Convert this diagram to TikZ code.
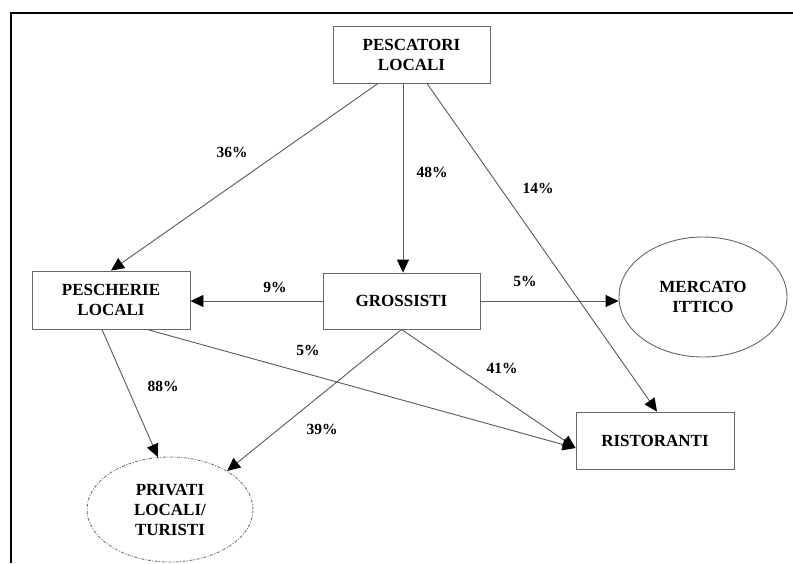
\documentclass[tikz,border=0pt]{standalone}
\usepackage{fontspec}
\setmainfont{Liberation Serif}
\usetikzlibrary{arrows.meta,shapes.geometric}
\begin{document}
\begin{tikzpicture}[x=1pt,y=-1pt,
  box/.style={draw=black!60,line width=0.9pt,rectangle,minimum width=157pt,minimum height=57pt,inner sep=0pt,align=center,font=\fontsize{17}{20}\selectfont\bfseries},
  oval/.style={draw=black!60,line width=0.9pt,ellipse,inner sep=0pt,align=center,font=\fontsize{17}{20}\selectfont\bfseries},
  pct/.style={font=\fontsize{15.5}{18}\selectfont\bfseries,inner sep=0pt},
  conn/.style={draw=black!65,line width=0.9pt,-{Triangle[length=13pt,width=12pt,color=black]}}]
\useasboundingbox (0,0) rectangle (793,563);
\draw[line width=2pt] (11,563) -- (11,13) -- (793,13);
\node[box] (pesc) at (411.5,54.5) {PESCATORI\\LOCALI};
\node[box,minimum width=158pt,minimum height=58pt] (pesch) at (111,300) {PESCHERIE\\LOCALI};
\node[box,minimum height=56pt] (gross) at (401.5,301) {GROSSISTI};
\node[oval,minimum width=168pt,minimum height=120pt] (merc) at (703,297) {MERCATO\\ITTICO};
\node[box,minimum width=158pt] (rist) at (655,440.5) {RISTORANTI};
\node[oval,draw=black!55,dash pattern=on 3pt off 1.5pt on 1pt off 1.5pt,minimum width=166pt,minimum height=105pt] (priv) at (170,509.5) {PRIVATI\\LOCALI/\\TURISTI};
\draw[conn] ([xshift=-33.5pt]pesc.south) -- (pesch.north);
\draw[conn] ([xshift=-8.5pt]pesc.south) -- ([xshift=1.5pt]gross.north);
\draw[conn] ([xshift=15.5pt]pesc.south) -- ([xshift=2pt]rist.north);
\draw[conn] (gross.west) -- (gross.west -| pesch.east);
\draw[conn] (gross.east) -- (gross.east -| merc.west);
\draw[conn] (gross.south) -- ([yshift=-7.5pt]rist.west);
\draw[conn] (gross.south) -- (priv.34);
\draw[conn] ([xshift=-9pt]pesch.south) -- (priv.103);
\draw[conn] ([xshift=36pt]pesch.south) -- ([yshift=-7.5pt]rist.west);
\node[pct] (l36) at (232,152) {36\%};
\node[pct] (l48) at (432,172) {48\%};
\node[pct] (l14) at (538,188) {14\%};
\node[pct] (l9) at (275,287) {9\%};
\node[pct] (l5a) at (525,281) {5\%};
\node[pct] (l5b) at (308,350) {5\%};
\node[pct] (l88) at (163,386) {88\%};
\node[pct] (l41) at (502,368) {41\%};
\node[pct] (l39) at (322,429) {39\%};
\end{tikzpicture}
\end{document}
